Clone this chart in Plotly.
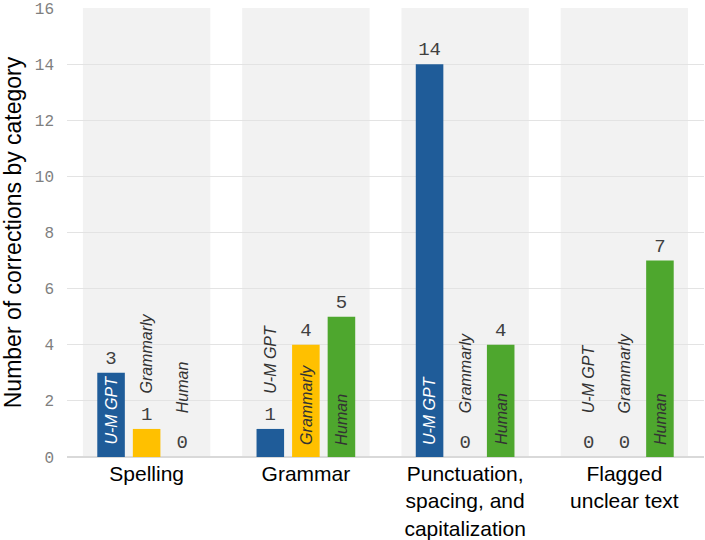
import plotly.graph_objects as go

categories = ["Spelling", "Grammar", "Punctuation,<br>spacing, and<br>capitalization", "Flagged<br>unclear text"]
series_names = ["U-M GPT", "Grammarly", "Human"]
um_gpt = [3, 1, 14, 0]
grammarly = [1, 4, 0, 0]
human = [0, 5, 4, 7]
y_ticks = [0, 2, 4, 6, 8, 10, 12, 14, 16]

series_values = [um_gpt, grammarly, human]
colors = ["#1F5C99", "#FFC000", "#4EA72E"]
inside_text_colors = ["#FFFFFF", "#333333", "#333333"]

BARGAP = 0.33
BARGROUPGAP = 0.225
INSIDE_MIN = 3  # label fits inside bar when value >= this

fig = go.Figure()

# background bands per category
for i, _ in enumerate(categories):
    fig.add_shape(type="rect", xref="x", yref="y", x0=i - 0.4, x1=i + 0.4,
                  y0=0, y1=16, fillcolor="#F2F2F2", line_width=0, layer="below")

for name, vals, col in zip(series_names, series_values, colors):
    fig.add_trace(go.Bar(
        x=categories, y=vals, name=name, marker_color=col,
        marker_line_width=0,
        text=[str(v) for v in vals], textposition="outside",
        textfont=dict(family="Liberation Mono", size=19, color="#404040"),
        cliponaxis=False,
    ))

slot = (1 - BARGAP) / len(series_names)
annotations = []
for j, (name, vals) in enumerate(zip(series_names, series_values)):
    offset = (j - (len(series_names) - 1) / 2) * slot
    for i, v in enumerate(vals):
        if v >= INSIDE_MIN:
            annotations.append(dict(
                x=i + offset, y=0, xref="x", yref="y", text="<i>" + name + "</i>",
                textangle=-90, showarrow=False, yanchor="bottom", xanchor="center",
                yshift=10, font=dict(family="Liberation Sans", size=16, color=inside_text_colors[j]),
            ))
        else:
            annotations.append(dict(
                x=i + offset, y=v, xref="x", yref="y", text="<i>" + name + "</i>",
                textangle=-90, showarrow=False, yanchor="bottom", xanchor="center",
                yshift=33 if v > 0 else 42,
                font=dict(family="Liberation Sans", size=16, color="#333333"),
            ))

fig.update_layout(
    width=705, height=540,
    margin=dict(l=67, r=1, t=8, b=83, autoexpand=False),
    barmode="group", bargap=BARGAP, bargroupgap=BARGROUPGAP,
    plot_bgcolor="white", paper_bgcolor="white",
    showlegend=False,
    annotations=annotations,
    font=dict(family="Liberation Sans"),
)
fig.update_xaxes(
    tickfont=dict(family="Liberation Sans", size=21, color="#000000"),
    showgrid=False, showline=False, ticks="", zeroline=False,
    ticklabelstandoff=2, automargin=False,
)
fig.update_yaxes(
    range=[0, 16.001], tickvals=y_ticks,
    tickfont=dict(family="Liberation Mono", size=16, color="#7F7F7F"),
    gridcolor="#E3E3E3", gridwidth=1, zeroline=True, zerolinecolor="#D9D9D9", zerolinewidth=2,
    title=dict(text="Number of corrections by category",
               font=dict(family="Liberation Sans", size=23, color="#000000"), standoff=12),
    ticks="", ticklabelstandoff=12, automargin=False,
)

fig.write_html("out.html")
